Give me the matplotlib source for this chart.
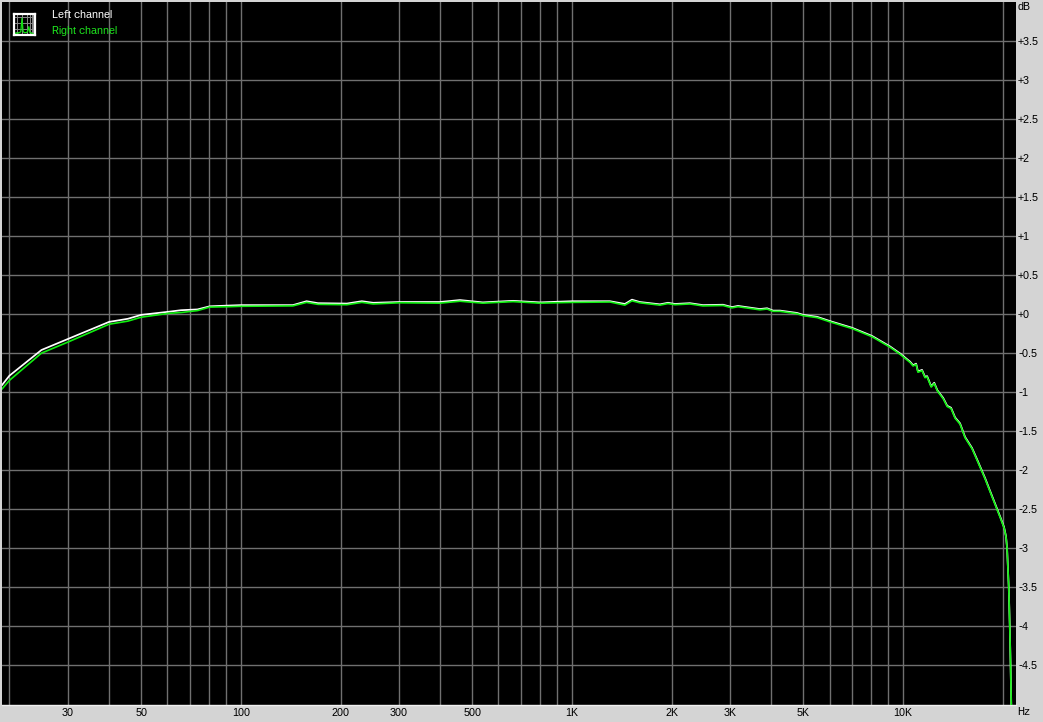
import matplotlib
matplotlib.use("Agg")
import matplotlib.pyplot as plt
from matplotlib.ticker import FixedLocator, FixedFormatter, NullLocator

plt.rcParams['font.family'] = ['Liberation Sans', 'DejaVu Sans']
plt.rcParams['text.hinting'] = 'native'
plt.rcParams['text.hinting_factor'] = 1

freq_hz = [19, 20, 25, 30, 40, 45.6, 50, 60.5, 66, 74, 80.6, 92.6, 100, 143.6, 158, 171,
           209, 232, 251, 302, 399, 459, 538, 664, 800, 1000, 1303, 1445, 1518, 1603,
           1844, 1950, 2047, 2271, 2486, 2860, 3043, 3172, 3694, 3884, 4049, 4248, 4782,
           4993, 5500, 6018, 7011, 8060, 9137, 9795, 10500, 10720, 10950, 11090, 11410,
           11650, 11820, 12160, 12420, 12690, 13220, 13590, 13960, 14360, 14860, 15390,
           16150, 16740, 17700, 18580, 19640, 20180, 20460, 20610, 20850, 21000, 21120, 21220]

right_db = [-0.96, -0.85, -0.50, -0.36, -0.13, -0.09, -0.04, 0.01, 0.02, 0.045, 0.09, 0.095,
            0.10, 0.105, 0.15, 0.125, 0.12, 0.15, 0.13, 0.145, 0.14, 0.165, 0.14, 0.16, 0.14,
            0.15, 0.155, 0.115, 0.17, 0.145, 0.115, 0.135, 0.12, 0.13, 0.105, 0.11, 0.08,
            0.095, 0.055, 0.065, 0.035, 0.035, 0.005, -0.02, -0.045, -0.10, -0.185, -0.29,
            -0.425, -0.515, -0.62, -0.665, -0.645, -0.745, -0.725, -0.815, -0.805, -0.935,
            -0.89, -0.985, -1.085, -1.185, -1.21, -1.335, -1.41, -1.585, -1.725, -1.875,
            -2.115, -2.345, -2.605, -2.74, -2.855, -3.0, -3.5, -4.0, -4.5, -5.0]

left_db = [-0.91, -0.79, -0.46, -0.32, -0.10, -0.06, -0.01, 0.03, 0.05, 0.06, 0.10, 0.11,
           0.115, 0.115, 0.165, 0.14, 0.135, 0.165, 0.145, 0.155, 0.155, 0.18, 0.15, 0.17,
           0.15, 0.165, 0.165, 0.13, 0.185, 0.155, 0.125, 0.145, 0.13, 0.14, 0.115, 0.12,
           0.09, 0.105, 0.065, 0.075, 0.045, 0.045, 0.015, -0.01, -0.035, -0.09, -0.175, -0.28,
           -0.415, -0.505, -0.61, -0.655, -0.635, -0.735, -0.715, -0.805, -0.795, -0.925,
           -0.88, -0.975, -1.075, -1.175, -1.20, -1.325, -1.40, -1.575, -1.715, -1.865,
           -2.105, -2.335, -2.595, -2.73, -2.85, -3.0, -3.5, -4.0, -4.5, -5.0]

x_grid = [20, 30, 40, 50, 60, 70, 80, 90, 100, 200, 300, 400, 500, 600, 700, 800, 900,
          1000, 2000, 3000, 4000, 5000, 6000, 7000, 8000, 9000, 10000, 20000]
x_labels = ["", "30", "", "50", "", "", "", "", "100", "200", "300", "", "500", "", "", "", "",
            "1K", "2K", "3K", "", "5K", "", "", "", "", "10K", ""]
y_ticks = [3.5, 3, 2.5, 2, 1.5, 1, 0.5, 0, -0.5, -1, -1.5, -2, -2.5, -3, -3.5, -4, -4.5]
y_labels = ["+3.5", "+3", "+2.5", "+2", "+1.5", "+1", "+0.5", "+0", "-0.5", "-1", "-1.5",
            "-2", "-2.5", "-3", "-3.5", "-4", "-4.5"]
legend_names = ["Left channel", "Right channel"]
icon_x = [1, 2, 3, 4, 5, 6, 7, 8, 9, 10, 11, 12, 13, 14, 15, 16, 17]
icon_y = [1, 2, 1, 2, 2, 3, 14, 3, 2, 2, 2, 3, 7, 2, 2, 1, 1]

W, H = 1043, 722
BG = "#d4d4d4"
GRID = "#707070"
GREEN = "#10ee10"
FS = 8.0
fig = plt.figure(figsize=(W / 100, H / 100), dpi=100, facecolor=BG)
ax = fig.add_axes([2 / W, (H - 705) / H, 1014 / W, 703 / H], facecolor="black")

ax.set_xscale("log")
ax.set_xlim(19.0, 21930)
ax.set_ylim(-5.01, 4.0)
ax.xaxis.set_major_locator(FixedLocator(x_grid))
ax.xaxis.set_major_formatter(FixedFormatter(x_labels))
ax.xaxis.set_minor_locator(NullLocator())
ax.set_yticks(y_ticks, y_labels)
ax.yaxis.tick_right()
ax.grid(True, color=GRID, lw=1.0, zorder=1)
ax.set_axisbelow(True)
ax.tick_params(axis="both", length=0, labelsize=FS, labelcolor="black")
ax.tick_params(axis="x", pad=2)
ax.tick_params(axis="y", pad=1.5)
for side, sp in ax.spines.items():
    sp.set_visible(side == "bottom")
    sp.set_color("#f0f0f0")
    sp.set_linewidth(1.0)

ax.plot(freq_hz, left_db, color="white", lw=1.25, zorder=3, solid_joinstyle="round")
ax.plot(freq_hz, right_db, color=GREEN, lw=1.2, zorder=4, solid_joinstyle="round")

fig.text(1018 / W, 1 - 7 / H, "dB", fontsize=FS, color="black", ha="left", va="center")
fig.text(1017 / W, 1 - 712 / H, "Hz", fontsize=FS, color="black", ha="left", va="center")
fig.text(52 / W, 1 - 15 / H, legend_names[0], fontsize=FS, color="white", ha="left", va="center")
fig.text(52 / W, 1 - 31 / H, legend_names[1], fontsize=FS, color="#1ee61e", ha="left", va="center")

icon = fig.add_axes([14 / W, (H - 35) / H, 20.5 / W, 21.5 / H], facecolor="black")
icon.set_xlim(0, 18)
icon.set_ylim(0, 18)
icon.set_xticks([3, 7, 11, 14, 15.5, 16.5])
icon.set_yticks([5, 10, 15])
icon.grid(True, color="#8a8a8a", lw=0.7)
icon.set_axisbelow(True)
icon.tick_params(length=0, labelbottom=False, labelleft=False)
icon.plot(icon_x, icon_y, color="#12e012", lw=0.9)
for sp in icon.spines.values():
    sp.set_color("white")
    sp.set_linewidth(1.6)

fig.savefig("out.png", dpi=100, facecolor=BG)
